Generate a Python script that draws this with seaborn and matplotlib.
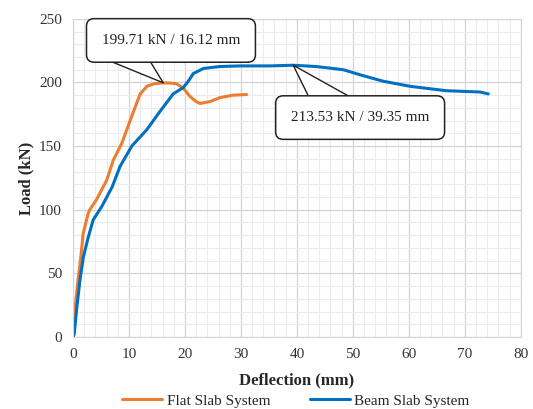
import matplotlib
matplotlib.use("Agg")
import matplotlib.pyplot as plt
from matplotlib.ticker import MultipleLocator
import seaborn as sns
import pandas as pd

# load-deflection curves
flat_defl = [0, 0.1, 0.4, 0.9, 1.4, 1.8, 2.7, 3.0, 4.2, 5.4, 6.0, 7.2, 8.7, 10.2,
             12.0, 13.2, 14.5, 16.12, 17.5, 18.5, 19.7, 20.9, 22.0, 22.7, 24.5,
             26.2, 28.6, 31.0]
flat_load = [0, 10, 24, 45, 63, 81, 97, 100, 108, 118, 123, 139, 152, 170,
             191, 197, 199, 199.71, 199.5, 199, 195.5, 189, 185, 183.5, 185,
             188, 190, 190.5]

beam_defl = [0, 0.2, 0.7, 1.25, 1.85, 2.7, 3.6, 5.2, 7.0, 8.4, 10.5, 13.2, 15.5,
             17.9, 19.7, 20.6, 21.5, 23.3, 26.2, 29.8, 35.2, 39.35, 43.5, 48.3,
             51.3, 55.4, 60.2, 66.7, 72.7, 74.2]
beam_load = [0, 2, 24, 45, 63, 78, 92, 103, 118, 134, 150, 163, 177, 191, 196,
             201, 207, 211, 212.5, 213, 213, 213.53, 212.5, 210, 206, 201, 197,
             193.5, 192.5, 191]

series_names = ["Flat Slab System", "Beam Slab System"]
peak_labels = ["199.71 kN / 16.12 mm", "213.53 kN / 39.35 mm"]
peak_points = [(16.12, 199.71), (39.35, 213.53)]

df = pd.concat([
    pd.DataFrame({"Deflection": flat_defl, "Load": flat_load, "System": series_names[0]}),
    pd.DataFrame({"Deflection": beam_defl, "Load": beam_load, "System": series_names[1]}),
])

sns.set_style("white")
plt.rcParams["font.family"] = ["Liberation Serif", "DejaVu Serif"]

fig = plt.figure(figsize=(5.33, 4.09), dpi=100)
ax = fig.add_axes([0.137, 0.176, 0.840, 0.778])

sns.lineplot(data=df, x="Deflection", y="Load", hue="System", sort=False,
             estimator=None, palette=["#ED7D31", "#0070C0"], linewidth=2.2, ax=ax)

ax.set_xlim(0, 80)
ax.set_ylim(0, 250)
ax.xaxis.set_major_locator(MultipleLocator(10))
ax.xaxis.set_minor_locator(MultipleLocator(2))
ax.yaxis.set_major_locator(MultipleLocator(50))
ax.yaxis.set_minor_locator(MultipleLocator(10))
ax.grid(True, which="major", color="#d4d4d4", linewidth=0.9)
ax.grid(True, which="minor", color="#ececec", linewidth=0.8)
ax.set_axisbelow(True)
ax.tick_params(which="both", length=0, labelsize=11, pad=8, colors="#333333")
for s in ax.spines.values():
    s.set_color("#d4d4d4")

ax.set_xlabel("Deflection (mm)", fontsize=12, fontweight="bold", labelpad=8)
ax.set_ylabel("Load (kN)", fontsize=12, fontweight="bold", labelpad=3)

# callouts: wedge first, then the rounded box on top of its base
box = dict(boxstyle="round,pad=1.0,rounding_size=0.5", fc="white", ec="#222222", lw=1.1)
wedge_tails = [(7.5, 232.0), (48.1, 173.0)]
wedge_widths = [3.0, 3.2]
box_centres = [(17.5, 233), (51.3, 172.4)]
for lab, pt, tail, tw, ctr in zip(peak_labels, peak_points, wedge_tails,
                                   wedge_widths, box_centres):
    ax.annotate("", xy=pt, xytext=tail, zorder=5,
                arrowprops=dict(arrowstyle=f"wedge,tail_width={tw},shrink_factor=0.5",
                                fc="white", ec="#222222", lw=1.0, shrinkA=0,
                                shrinkB=0, mutation_scale=10))
    ax.text(ctr[0], ctr[1], lab, ha="center", va="center", fontsize=11,
            color="#222222", bbox=box, zorder=6)

handles, labels = ax.get_legend_handles_labels()
ax.legend(handles, labels, loc="center", bbox_to_anchor=(0.555, 0.02),
          bbox_transform=fig.transFigure, ncol=2, frameon=False, fontsize=11,
          handlelength=2.6, columnspacing=2.6, handletextpad=0.3)

fig.savefig("out.png", dpi=100)
